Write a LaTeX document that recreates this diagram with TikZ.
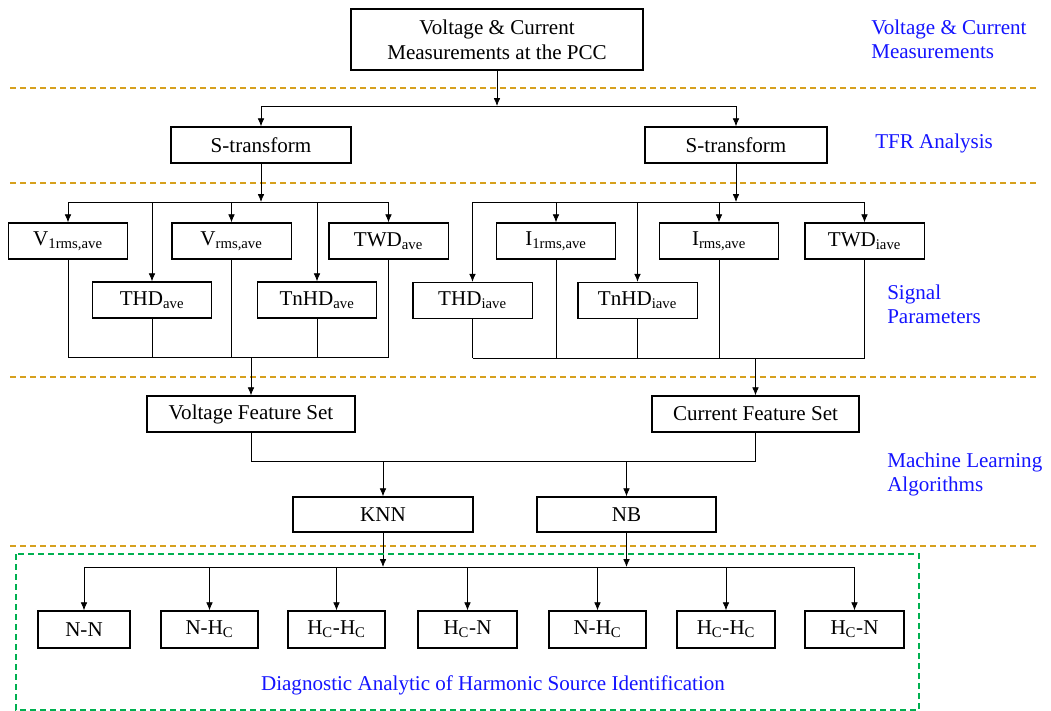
\documentclass[tikz,border=0pt]{standalone}
\usepackage{fontspec}
\setmainfont{Liberation Serif}
\usetikzlibrary{arrows.meta}
\definecolor{sepcol}{RGB}{214,160,30}
\definecolor{grn}{RGB}{0,176,80}
\definecolor{lblue}{RGB}{20,20,255}
\begin{document}
\begin{tikzpicture}[x=0.75pt,y=-0.75pt,
  every node/.style={font=\fontsize{15.8}{19}\selectfont},
  box/.style={draw,line width=1pt,inner sep=0pt,minimum height=27pt,align=center},
  sbox/.style={box,minimum width=89.5pt},
  bbox/.style={box,minimum height=27.75pt},
  con/.style={line width=0.6pt},
  arr/.style={con,-{Latex[length=6pt,width=5pt]}},
  sep/.style={sepcol,line width=1.1pt,dash pattern=on 4.5pt off 3pt},
  lab/.style={lblue,anchor=west,align=left,inner sep=0pt,font=\fontsize{15.8}{18}\selectfont}]
\useasboundingbox (0,0) rectangle (1051,711);

% separators
\foreach \yy/\nm in {88/a,183/b,377/c,546/d}{
  \coordinate (sl\nm) at (10,\yy); \coordinate (sr\nm) at (1040,\yy);
  \draw[sep] (sl\nm) -- (sr\nm);}

% labels
\node[lab] (l1) at (871,39) {Voltage \& Current\\Measurements};
\node[lab] (l2) at (875,143) {TFR Analysis};
\node[lab] (l3) at (887,304) {Signal\\Parameters};
\node[lab] (l4) at (887,474) {Machine Learning\\Algorithms};

% top
\node[box,minimum width=219pt,minimum height=45.75pt] (top) at (497,39.5) {Voltage \& Current\\Measurements at the PCC};
\node[box,minimum width=135pt] (st1) at (261,145) {S-transform};
\node[box,minimum width=136.5pt] (st2) at (736,145) {S-transform};
\coordinate (j1) at (497,106);
\draw[arr] (top.south) -- (j1);
\draw[arr] (j1) -| (st1.north);
\draw[arr] (j1) -| (st2.north);

% signal parameters left
\node[sbox] (v1) at (68,241) {V\textsubscript{1rms,ave}};
\node[sbox] (vr) at (231.5,241) {V\textsubscript{rms,ave}};
\node[sbox] (tw) at (388.5,241) {TWD\textsubscript{ave}};
\node[sbox] (th) at (152,300) {THD\textsubscript{ave}};
\node[sbox] (tn) at (317,300) {TnHD\textsubscript{ave}};
\coordinate (j2) at (261,202);
\draw[arr] (st1.south) -- (j2);
\draw[con] (v1.north|-j2) -- (tw.north|-j2);
\foreach \n in {v1,vr,tw,th,tn}{\draw[arr] (\n.north|-j2) -- (\n.north);}

% signal parameters right
\node[sbox] (i1) at (556,241) {I\textsubscript{1rms,ave}};
\node[sbox] (ir) at (719,241) {I\textsubscript{rms,ave}};
\node[sbox] (twi) at (864.5,241) {TWD\textsubscript{iave}};
\node[sbox] (thi) at (472.5,300.5) {THD\textsubscript{iave}};
\node[sbox] (tni) at (637.5,300.5) {TnHD\textsubscript{iave}};
\coordinate (j3) at (736,202);
\draw[arr] (st2.south) -- (j3);
\draw[con] (thi.north|-j3) -- (twi.north|-j3);
\foreach \n in {i1,ir,twi,thi,tni}{\draw[arr] (\n.north|-j3) -- (\n.north);}

% feature sets
\node[box,minimum width=156pt] (vfs) at (251,414) {Voltage Feature Set};
\node[box,minimum width=155.25pt] (cfs) at (755.5,414) {Current Feature Set};
\coordinate (c1) at (251,357);
\coordinate (c2) at (755.5,358);
\foreach \n in {v1,vr,tw,th,tn}{\draw[con] (\n.south) -- (\n.south|-c1);}
\draw[con] (v1.south|-c1) -- (tw.south|-c1);
\draw[arr] (c1) -- (vfs.north);
\foreach \n in {i1,ir,twi,thi,tni}{\draw[con] (\n.south) -- (\n.south|-c2);}
\draw[con] (thi.south|-c2) -- (twi.south|-c2);
\draw[arr] (c2) -- (cfs.north);

% ML
\node[box,minimum width=135pt,minimum height=26.25pt] (knn) at (383,514.5) {KNN};
\node[box,minimum width=134.25pt,minimum height=26.25pt] (nb) at (626.5,514.5) {NB};
\coordinate (j4) at (251,461);
\draw[con] (vfs.south) -- (j4) -| (cfs.south);
\draw[arr] (knn.north|-j4) -- (knn.north);
\draw[arr] (nb.north|-j4) -- (nb.north);

% outcomes
\node[bbox,minimum width=69pt] (o1) at (84,629.5) {N-N};
\node[bbox,minimum width=72.75pt] (o2) at (209.5,629.5) {N-H\textsubscript{C}};
\node[bbox,minimum width=72.75pt] (o3) at (336.5,629.5) {H\textsubscript{C}-H\textsubscript{C}};
\node[bbox,minimum width=74.25pt] (o4) at (467.5,629.5) {H\textsubscript{C}-N};
\node[bbox,minimum width=72.75pt] (o5) at (597.5,629.5) {N-H\textsubscript{C}};
\node[bbox,minimum width=73.5pt] (o6) at (726,629.5) {H\textsubscript{C}-H\textsubscript{C}};
\node[bbox,minimum width=74.25pt] (o7) at (854.5,629.5) {H\textsubscript{C}-N};
\coordinate (j5) at (383,567);
\draw[arr] (knn.south) -- (j5);
\draw[arr] (nb.south) -- (nb.south|-j5);
\draw[con] (o1.north|-j5) -- (o7.north|-j5);
\foreach \n in {o1,o2,o3,o4,o5,o6,o7}{\draw[arr] (\n.north|-j5) -- (\n.north);}

% frame
\coordinate (g1) at (16,554); \coordinate (g2) at (919,710);
\draw[grn,line width=1.1pt,dash pattern=on 4.5pt off 3pt] (g1) rectangle (g2);
\node[lblue] (dg) at (493,685) {Diagnostic Analytic of Harmonic Source Identification};
\end{tikzpicture}
\end{document}
